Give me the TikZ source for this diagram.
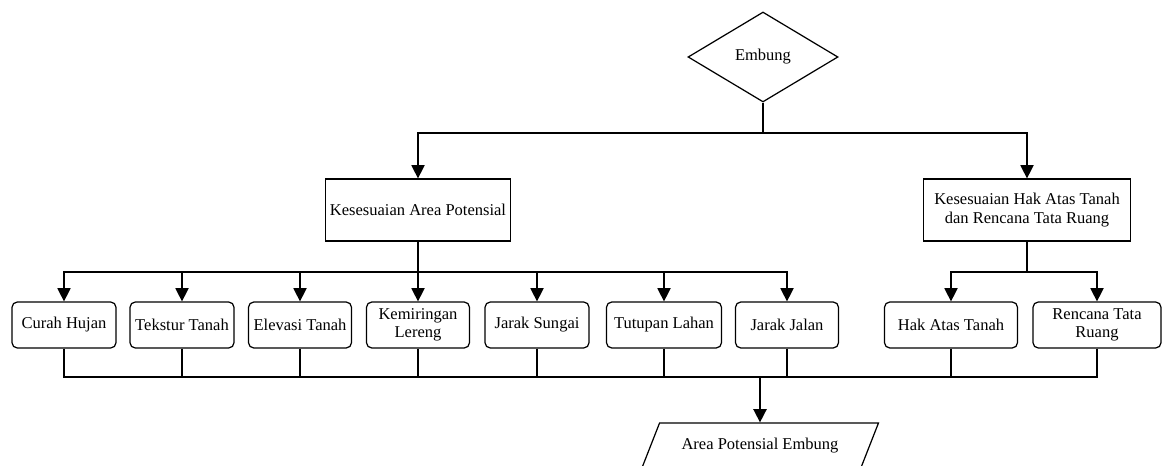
\documentclass[tikz,border=0pt]{standalone}
\usepackage{fontspec}
\setmainfont{Liberation Serif}
\usetikzlibrary{shapes.geometric,arrows.meta}

\begin{document}
\begin{tikzpicture}[x=0.02cm,y=-0.02cm,line width=0.7pt,
  every node/.style={font=\fontsize{9.4}{10.5}\selectfont},
  kotak/.style={draw,inner sep=2pt,align=center},
  kecil/.style={kotak,rounded corners=3pt,minimum height=0.92cm},
  panah/.style={-{Triangle[length=7.5pt,width=7.5pt]}}]
  \useasboundingbox (0,0) rectangle (1164,466);
  % judul
  \node[draw,diamond,aspect=1.67,minimum width=3cm,minimum height=1.8cm] (embung) at (763,57) {Embung};
  \node[kotak,minimum width=3.7cm,minimum height=1.24cm] (kap) at (418,210) {Kesesuaian Area Potensial};
  \node[kotak,minimum width=4.14cm,minimum height=1.24cm] (khat) at (1027,210) {Kesesuaian Hak Atas Tanah\\dan Rencana Tata Ruang};
  \coordinate (cabang) at (763,133);
  \draw (embung.south) -- (cabang);
  \draw[panah] (cabang) -| (kap.north);
  \draw[panah] (cabang) -| (khat.north);
  % kriteria
  \coordinate (bagiA) at (418,272);
  \coordinate (bagiB) at (1027,272);
  \coordinate (gabung) at (760,377);
  \draw (kap.south) -- (bagiA);
  \draw (khat.south) -- (bagiB);
  \foreach \nama/\x/\w/\teks in {curah/64/104/{Curah Hujan},tekstur/182/104/{Tekstur Tanah},
      elevasi/300/103/{Elevasi Tanah},lereng/418/103/{Kemiringan\\Lereng},sungai/537/104/{Jarak Sungai},
      tutupan/664/115/{Tutupan Lahan},jalan/787/103/{Jarak Jalan}}{
    \node[kecil,minimum width=\w*0.02cm] (\nama) at (\x,325) {\teks};
    \draw[panah] (bagiA) -| (\nama.north);
    \draw (\nama.south) |- (gabung);
  }
  \foreach \nama/\x/\w/\teks in {hak/951/133/{Hak Atas Tanah},rencana/1097/128/{Rencana Tata\\Ruang}}{
    \node[kecil,minimum width=\w*0.02cm] (\nama) at (\x,325) {\teks};
    \draw[panah] (bagiB) -| (\nama.north);
    \draw (\nama.south) |- (gabung);
  }
  % hasil
  \node[draw,trapezium,trapezium left angle=56,trapezium right angle=124,trapezium stretches body,
    minimum width=4.74cm,minimum height=0.92cm] (hasil) at (760,446) {Area Potensial Embung};
  \draw[panah,line width=0.9pt] (gabung) -- (hasil.north);
\end{tikzpicture}
\end{document}
